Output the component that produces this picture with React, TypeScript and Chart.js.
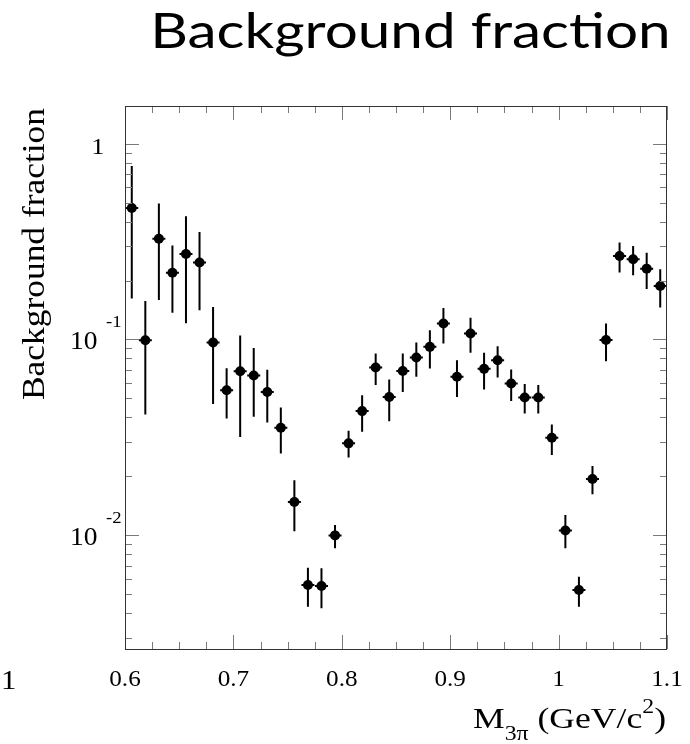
import React, { useEffect, useRef } from "react";
import { Chart, registerables } from "chart.js";

Chart.register(...registerables);

// ---- data ----
const massGeV = [
  0.60625, 0.61875, 0.63125, 0.64375, 0.65625, 0.66875, 0.68125, 0.69375, 0.70625, 0.71875,
  0.73125, 0.74375, 0.75625, 0.76875, 0.78125, 0.79375, 0.80625, 0.81875, 0.83125, 0.84375,
  0.85625, 0.86875, 0.88125, 0.89375, 0.90625, 0.91875, 0.93125, 0.94375, 0.95625, 0.96875,
  0.98125, 0.99375, 1.00625, 1.01875, 1.03125, 1.04375, 1.05625, 1.06875, 1.08125, 1.09375,
];
const bgFraction = [
  0.469, 0.0992, 0.327, 0.219, 0.273, 0.247, 0.0966, 0.0551, 0.0689, 0.0655,
  0.054, 0.0354, 0.0148, 0.00558, 0.00551, 0.01, 0.0295, 0.0431, 0.072, 0.0509,
  0.0691, 0.0809, 0.0917, 0.1207, 0.0645, 0.1073, 0.0708, 0.0784, 0.0596, 0.0506,
  0.0506, 0.0315, 0.0106, 0.00526, 0.0194, 0.0995, 0.267, 0.257, 0.23, 0.1877,
];
const errLower = [
  0.162, 0.0414, 0.159, 0.137, 0.121, 0.141, 0.0468, 0.0395, 0.0318, 0.0403,
  0.0377, 0.0262, 0.0105, 0.00432, 0.00424, 0.0086, 0.025, 0.0338, 0.0585, 0.0383,
  0.054, 0.0645, 0.0711, 0.0954, 0.0509, 0.0855, 0.0556, 0.064, 0.0486, 0.0419,
  0.0419, 0.0257, 0.0086, 0.00432, 0.0162, 0.0775, 0.22, 0.213, 0.181, 0.1456,
];
const errUpper = [
  0.769, 0.157, 0.494, 0.302, 0.426, 0.354, 0.1466, 0.0714, 0.1048, 0.0906,
  0.07, 0.045, 0.0191, 0.00684, 0.0068, 0.0113, 0.0342, 0.052, 0.0848, 0.0625,
  0.0848, 0.0966, 0.1115, 0.145, 0.0784, 0.129, 0.0855, 0.0924, 0.0703, 0.0592,
  0.0585, 0.0368, 0.0127, 0.00615, 0.0226, 0.1207, 0.313, 0.3, 0.277, 0.2284,
];
const xMajorTicks = [0.6, 0.7, 0.8, 0.9, 1.0, 1.1];
const xTickLabels = ["0.6", "0.7", "0.8", "0.9", "1", "1.1"];
const xMinorTicks = [
  0.625, 0.65, 0.675, 0.725, 0.75, 0.775, 0.825, 0.85, 0.875, 0.925, 0.95, 0.975, 1.025, 1.05, 1.075,
];
const yMajorTicks = [1, 0.1, 0.01];
const yTickExponents = ["", "-1", "-2"];
const xMin = 0.6;
const xMax = 1.1;
const yMin = 0.00263;
const yMax = 1.556;

const TITLE = "Background fraction";
const Y_TITLE = "Background fraction";

const SERIF = "'Liberation Serif', 'DejaVu Serif', serif";
const STRETCH = 1.1; // the reference's serif text is widened horizontally

function drawText(
  ctx: CanvasRenderingContext2D,
  text: string,
  x: number,
  y: number,
  font: string,
  align: "left" | "right" | "center",
  sx: number = STRETCH
) {
  ctx.save();
  ctx.font = font;
  ctx.textAlign = align;
  ctx.textBaseline = "alphabetic";
  ctx.translate(x, y);
  ctx.scale(sx, 1);
  ctx.fillText(text, 0, 0);
  ctx.restore();
}

const rootPlugin = {
  id: "rootStyle",
  beforeDatasetsDraw(chart: any) {
    const ctx = chart.ctx as CanvasRenderingContext2D;
    const xs = chart.scales.x;
    const ys = chart.scales.y;
    ctx.save();
    ctx.strokeStyle = "#000";
    ctx.lineWidth = 2;
    for (let i = 0; i < massGeV.length; i++) {
      const px = xs.getPixelForValue(massGeV[i]);
      const py = ys.getPixelForValue(bgFraction[i]);
      const pLo = ys.getPixelForValue(errLower[i]);
      const pHi = ys.getPixelForValue(errUpper[i]);
      ctx.beginPath();
      ctx.moveTo(px, pLo);
      ctx.lineTo(px, pHi);
      ctx.moveTo(px - 6.5, py);
      ctx.lineTo(px + 6.5, py);
      ctx.stroke();
    }
    ctx.restore();
  },
  afterDraw(chart: any) {
    const ctx = chart.ctx as CanvasRenderingContext2D;
    const xs = chart.scales.x;
    const ys = chart.scales.y;
    const { left, right, top, bottom } = chart.chartArea;
    ctx.save();

    // ticks
    ctx.strokeStyle = "#7a7a7a";
    ctx.lineWidth = 1;
    ctx.beginPath();
    const xTick = (v: number, len: number) => {
      const p = Math.round(xs.getPixelForValue(v)) + 0.5;
      ctx.moveTo(p, bottom);
      ctx.lineTo(p, bottom - len);
      ctx.moveTo(p, top);
      ctx.lineTo(p, top + len);
    };
    const yTick = (v: number, len: number) => {
      const p = Math.round(ys.getPixelForValue(v)) + 0.5;
      ctx.moveTo(left, p);
      ctx.lineTo(left + len, p);
      ctx.moveTo(right, p);
      ctx.lineTo(right - len, p);
    };
    xMajorTicks.forEach((v) => xTick(v, 14));
    xMinorTicks.forEach((v) => xTick(v, 7));
    yMajorTicks.forEach((v) => yTick(v, 14));
    for (let e = -3; e <= 0; e++) {
      for (let m = 2; m <= 9; m++) {
        const v = m * Math.pow(10, e);
        if (v > yMin && v < yMax) yTick(v, 7);
      }
    }
    ctx.stroke();

    // frame
    ctx.strokeStyle = "#333";
    ctx.lineWidth = 1;
    ctx.strokeRect(left + 0.5, top + 0.5, right - left - 1, bottom - top);

    ctx.fillStyle = "#000";
    // x tick labels
    xMajorTicks.forEach((v, i) => {
      drawText(ctx, xTickLabels[i], xs.getPixelForValue(v), 686, `24px ${SERIF}`, "center", 1.05);
    });

    // y tick labels
    yMajorTicks.forEach((v, i) => {
      const p = ys.getPixelForValue(v);
      const exp = yTickExponents[i];
      if (!exp) {
        drawText(ctx, "1", 104.5, p + 10.5, `24px ${SERIF}`, "right");
      } else {
        drawText(ctx, "10", 97.5, p + 9.5, `25px ${SERIF}`, "right");
        drawText(ctx, exp, 106, p - 12.5, `17px ${SERIF}`, "left");
      }
    });

    // stray label at the left edge
    drawText(ctx, "1", 1, 689, `28px ${SERIF}`, "left", 1.1);

    // x axis title: M_{3pi} (GeV/c^2)
    const big = `30px ${SERIF}`;
    const small = `20px ${SERIF}`;
    const parts: [string, string, number][] = [
      ["M", big, 0],
      ["3\u03c0", small, 12],
      [" (GeV/c", big, 0],
      ["2", small, -15],
      [")", big, 0],
    ];
    let total = 0;
    parts.forEach(([t, f]) => {
      ctx.font = f;
      total += ctx.measureText(t).width;
    });
    const targetW = 193;
    const sxT = targetW / total;
    let cx = 666 - targetW;
    parts.forEach(([t, f, dy]) => {
      drawText(ctx, t, cx, 728 + dy, f, "left", sxT);
      ctx.font = f;
      cx += ctx.measureText(t).width * sxT;
    });

    // y axis title (rotated)
    ctx.save();
    ctx.font = `28px ${SERIF}`;
    const yw = ctx.measureText(Y_TITLE).width;
    ctx.translate(44, 254);
    ctx.rotate(-Math.PI / 2);
    ctx.scale(292 / yw, 1.12);
    ctx.textAlign = "center";
    ctx.fillText(Y_TITLE, 0, 0);
    ctx.restore();

    // main title
    ctx.save();
    ctx.font = `48.8px Lato, 'Open Sans', sans-serif`;
    const m = ctx.measureText(TITLE);
    const inkW = m.actualBoundingBoxLeft + m.actualBoundingBoxRight;
    ctx.translate(155, 48);
    const sx = 513 / inkW;
    ctx.scale(sx, 1);
    ctx.textAlign = "left";
    ctx.fillText(TITLE, m.actualBoundingBoxLeft, 0);
    ctx.restore();

    ctx.restore();
  },
};

export default function App() {
  const canvasRef = useRef<HTMLCanvasElement | null>(null);

  useEffect(() => {
    if (!canvasRef.current) return;
    const chart = new Chart(canvasRef.current, {
      type: "scatter",
      data: {
        datasets: [
          {
            label: "Background fraction",
            data: massGeV.map((x, i) => ({ x, y: bgFraction[i] })),
            backgroundColor: "#000",
            borderColor: "#000",
            pointRadius: 5,
            pointHoverRadius: 5,
            pointBorderWidth: 0,
            pointStyle: "circle",
            showLine: false,
          },
        ],
      },
      options: {
        animation: false,
        responsive: false,
        devicePixelRatio: 1,
        events: [],
        layout: { padding: { left: 125, right: 23, top: 106, bottom: 95 } },
        plugins: {
          legend: { display: false },
          tooltip: { enabled: false },
          title: { display: false },
        },
        scales: {
          x: { type: "linear", min: xMin, max: xMax, display: false },
          y: { type: "logarithmic", min: yMin, max: yMax, display: false },
        },
      },
      plugins: [rootPlugin],
    });
    const fonts = (document as any).fonts;
    if (fonts && fonts.load) {
      Promise.all([
        fonts.load("48px Lato"),
        fonts.load("22px 'Liberation Serif'"),
      ])
        .then(() => chart.draw())
        .catch(() => {});
    }
    return () => chart.destroy();
  }, []);

  return (
    <div style={{ position: "absolute", left: 0, top: 0, width: 690, height: 744, background: "#fff" }}>
      <canvas ref={canvasRef} width={690} height={744} style={{ display: "block", width: 690, height: 744 }} />
    </div>
  );
}
